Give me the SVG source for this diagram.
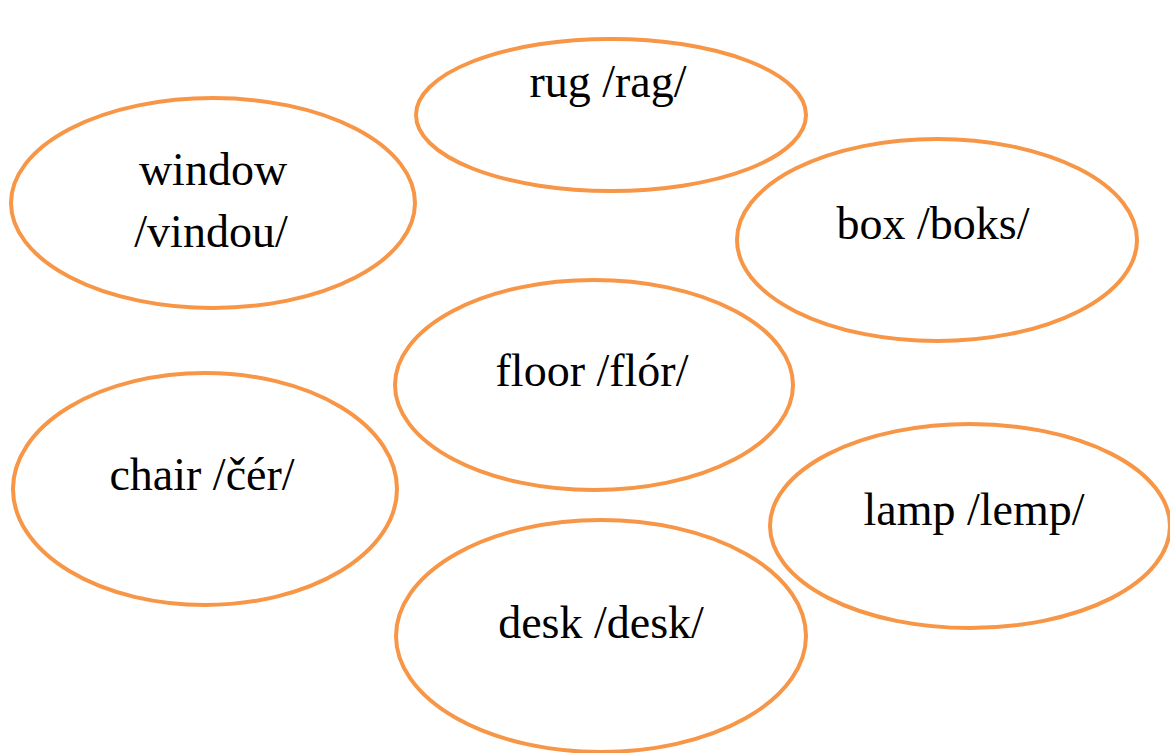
<svg xmlns="http://www.w3.org/2000/svg" width="1170" height="753" viewBox="0 0 1170 753">
<style>
.n{fill:#FFFFFF;stroke:#F79646;stroke-width:4}
.t{font-family:"Liberation Serif","Times New Roman",serif;font-size:46px;fill:#000000;text-anchor:middle}
</style>
<rect width="1170" height="753" fill="#FFFFFF"/>
<g id="connectors"></g>
<g id="node-rug"><ellipse class="n" cx="611" cy="115" rx="195" ry="76"/><text class="t" x="608" y="97">rug /rag/</text></g>
<g id="node-window"><ellipse class="n" cx="213" cy="203" rx="202" ry="105"/><text class="t" x="213" y="185">window</text><text class="t" x="211" y="247">/vindou/</text></g>
<g id="node-box"><ellipse class="n" cx="937" cy="240" rx="200" ry="101"/><text class="t" x="933" y="239">box /boks/</text></g>
<g id="node-floor"><ellipse class="n" cx="594" cy="385" rx="199" ry="105"/><text class="t" x="592" y="386">floor /flór/</text></g>
<g id="node-chair"><ellipse class="n" cx="205" cy="489" rx="192" ry="116"/><text class="t" x="202" y="490">chair /čér/</text></g>
<g id="node-lamp"><ellipse class="n" cx="970" cy="526" rx="200" ry="102"/><text class="t" x="974" y="525">lamp /lemp/</text></g>
<g id="node-desk"><ellipse class="n" cx="601" cy="636" rx="205" ry="116"/><text class="t" x="601" y="638">desk /desk/</text></g>
</svg>
